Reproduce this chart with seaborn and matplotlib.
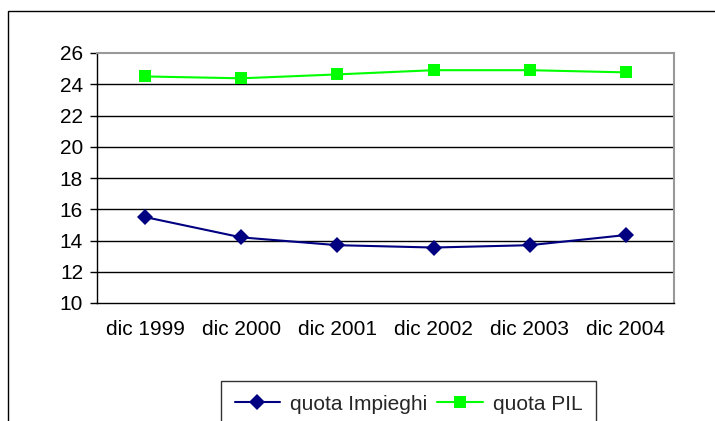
import matplotlib
matplotlib.use("Agg")
import matplotlib.pyplot as plt
import seaborn as sns
import pandas as pd
from matplotlib.patches import Rectangle
from matplotlib.lines import Line2D

# values
periods = ["dic 1999", "dic 2000", "dic 2001", "dic 2002", "dic 2003", "dic 2004"]
quota_impieghi = [15.5, 14.2, 13.7, 13.55, 13.7, 14.35]
quota_pil = [24.5, 24.38, 24.63, 24.9, 24.9, 24.76]
series_names = ["quota Impieghi", "quota PIL"]
y_ticks = [10, 12, 14, 16, 18, 20, 22, 24, 26]

sns.set_theme(style="white")
plt.rcParams["font.family"] = ["Liberation Sans", "DejaVu Sans"]

df = pd.DataFrame({
    "periodo": periods * 2,
    "valore": quota_impieghi + quota_pil,
    "serie": [series_names[0]] * len(periods) + [series_names[1]] * len(periods),
})

colors = {"quota Impieghi": "#000080", "quota PIL": "#00FF00"}
markers = {"quota Impieghi": "D", "quota PIL": "s"}

fig = plt.figure(figsize=(7.15, 4.21), dpi=100)
ax = fig.add_axes([97 / 715, 1 - 303 / 421, 577 / 715, 250 / 421])

sns.lineplot(data=df, x="periodo", y="valore", hue="serie", style="serie",
             palette=colors, markers=markers, dashes=False, sort=False,
             markersize=8, markeredgewidth=0, linewidth=1.5, ax=ax, legend=False)

ax.set_xlim(-0.5, len(periods) - 0.5)
ax.set_ylim(10, 26)
ax.set_yticks(y_ticks)
ax.set_xlabel("")
ax.set_ylabel("")
for y in y_ticks[1:-1]:
    ax.axhline(y, color="black", lw=1, zorder=0)

for side in ["left", "bottom"]:
    ax.spines[side].set_color("black")
    ax.spines[side].set_linewidth(1)
for side in ["top", "right"]:
    ax.spines[side].set_color("#999999")
    ax.spines[side].set_linewidth(1.5)

ax.set_xticks([i - 0.5 for i in range(len(periods) + 1)], minor=True)
ax.tick_params(axis="x", which="major", length=0, pad=12, labelsize=15, colors="black")
ax.tick_params(axis="x", which="minor", length=5, width=1, color="black", direction="out")
ax.tick_params(axis="y", length=5, width=1, color="black", direction="out",
               left=True, pad=5, labelsize=15, labelcolor="black")
ax.tick_params(axis="x", bottom=True)

# outer chart border
fig.patches.append(Rectangle((8 / 715, -0.1), 1.2, 1 - 11 / 421 + 0.1,
                             transform=fig.transFigure, fill=False,
                             edgecolor="black", lw=1, zorder=-1))

handles = [Line2D([], [], color=colors[n], marker=markers[n], markersize=8,
                  markeredgewidth=0, lw=1.5) for n in series_names]
leg = fig.legend(handles, series_names, loc="upper left",
                 bbox_to_anchor=(221 / 715, 1 - 381 / 421), ncol=2,
                 fontsize=15, frameon=True, fancybox=False, handlelength=2.2,
                 handletextpad=0.45, columnspacing=0.5, borderpad=0.65,
                 borderaxespad=0)
leg.get_frame().set_edgecolor("black")
leg.get_frame().set_linewidth(1)

fig.savefig("out.png", dpi=100)
